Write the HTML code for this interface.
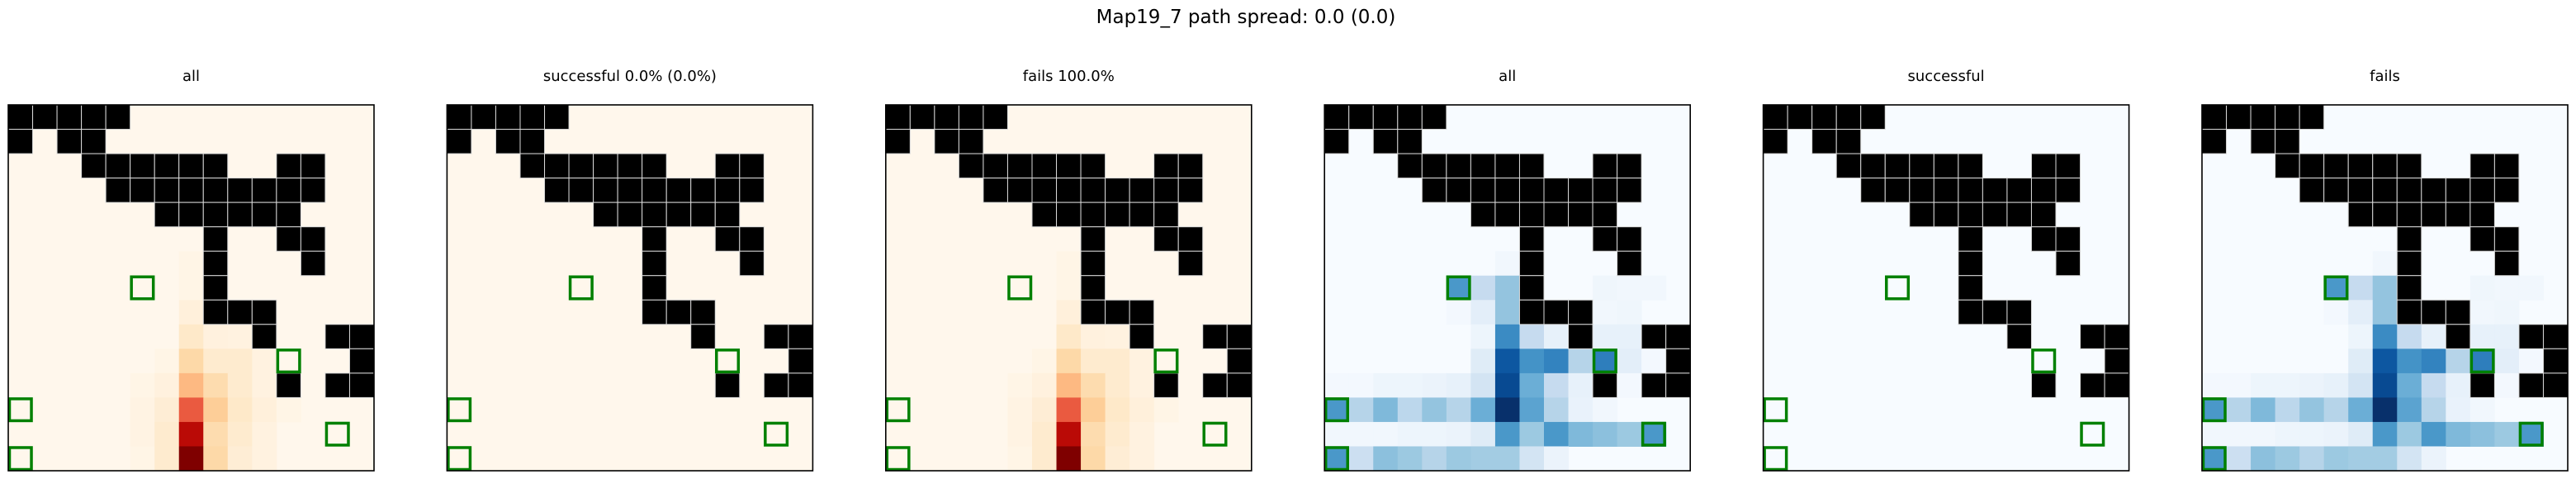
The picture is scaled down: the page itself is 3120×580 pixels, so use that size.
<!DOCTYPE html>
<html><head><meta charset="utf-8"><style>
body{margin:0;background:#fff;}
svg{display:block;font-family:"DejaVu Sans","Liberation Sans",sans-serif;}
</style></head><body>
<svg id="fig" width="3120" height="580" viewBox="0 0 3120 580" xmlns="http://www.w3.org/2000/svg">
<text x="1509" y="28" font-size="23" text-anchor="middle" fill="#000">Map19_7 path spread: 0.0 (0.0)</text>
</svg>
<script>
const panelTitles = ["all","successful 0.0% (0.0%)","fails 100.0%","all","successful","fails"];
const panelCmaps = ["OrRd","OrRd","OrRd","Blues","Blues","Blues"];
const panelUse = ["a","z","a","b","z","b"];
const walls = [[0,0],[0,1],[0,2],[0,3],[0,4],[1,0],[1,2],[1,3],
[2,3],[2,4],[2,5],[2,6],[2,7],[2,8],[2,11],[2,12],
[3,4],[3,5],[3,6],[3,7],[3,8],[3,9],[3,10],[3,11],[3,12],
[4,6],[4,7],[4,8],[4,9],[4,10],[4,11],
[5,8],[5,11],[5,12],[6,8],[6,12],[7,8],[8,8],[8,9],[8,10],
[9,10],[9,13],[9,14],[10,14],[11,11],[11,13],[11,14]];
const goals = [[7,5],[10,11],[12,0],[13,13],[14,0]];
const heatA = [[6,7,0.02],[7,7,0.02],[8,7,0.06],
[9,7,0.12],[9,8,0.05],[9,9,0.04],
[10,6,0.02],[10,7,0.22],[10,8,0.1],[10,9,0.1],[10,10,0.04],
[11,5,0.02],[11,6,0.05],[11,7,0.38],[11,8,0.2],[11,9,0.1],[11,10,0.04],
[12,5,0.03],[12,6,0.08],[12,7,0.65],[12,8,0.28],[12,9,0.12],[12,10,0.06],[12,11,0.02],
[13,5,0.03],[13,6,0.1],[13,7,0.85],[13,8,0.2],[13,9,0.1],[13,10,0.04],
[14,5,0.02],[14,6,0.1],[14,7,1.0],[14,8,0.22],[14,9,0.08],[14,10,0.04]];
const heatB = [[6,7,0.03],
[7,5,0.6],[7,6,0.25],[7,7,0.4],[7,11,0.04],[7,12,0.03],[7,13,0.03],
[8,5,0.02],[8,6,0.1],[8,7,0.4],[8,11,0.03],[8,12,0.04],
[9,6,0.05],[9,7,0.65],[9,8,0.25],[9,9,0.08],[9,11,0.08],[9,12,0.08],
[10,6,0.12],[10,7,0.85],[10,8,0.62],[10,9,0.68],[10,10,0.3],[10,11,0.7],[10,12,0.1],[10,13,0.02],
[11,0,0.02],[11,1,0.02],[11,2,0.05],[11,3,0.05],[11,4,0.06],[11,5,0.08],[11,6,0.18],[11,7,0.9],[11,8,0.5],[11,9,0.25],[11,10,0.08],[11,12,0.02],
[12,0,0.6],[12,1,0.3],[12,2,0.45],[12,3,0.28],[12,4,0.4],[12,5,0.3],[12,6,0.5],[12,7,1.0],[12,8,0.55],[12,9,0.3],[12,10,0.07],[12,11,0.03],
[13,0,0.03],[13,1,0.03],[13,2,0.03],[13,3,0.05],[13,4,0.05],[13,5,0.06],[13,6,0.12],[13,7,0.6],[13,8,0.38],[13,9,0.6],[13,10,0.45],[13,11,0.42],[13,12,0.38],[13,13,0.6],
[14,0,0.6],[14,1,0.22],[14,2,0.42],[14,3,0.38],[14,4,0.3],[14,5,0.38],[14,6,0.36],[14,7,0.36],[14,8,0.18],[14,9,0.06]];
const N = 15;
const CM = {
 OrRd:["#fff7ec","#fee8c8","#fdd49e","#fdbb84","#fc8d59","#ef6548","#d7301f","#b30000","#7f0000"],
 Blues:["#f7fbff","#deebf7","#c6dbef","#9ecae1","#6baed6","#4292c6","#2171b5","#08519c","#08306b"]
};
function hex(h){return [1,3,5].map(i=>parseInt(h.substr(i,2),16));}
function cmap(name,v){
 const s=CM[name];v=Math.max(0,Math.min(1,v));
 const t=v*(s.length-1);const i=Math.min(s.length-2,Math.floor(t));const f=t-i;
 const a=hex(s[i]),b=hex(s[i+1]);
 return "rgb("+a.map((x,k)=>Math.round(x+(b[k]-x)*f)).join(",")+")";
}
const svg=document.getElementById('fig');
const NS="http://www.w3.org/2000/svg";
const AX_LEFT0=10, AX_STEP=531.4, AX_TOP=127, AX_SIZE=443;
function mk(tag,attrs,parent){const e=document.createElementNS(NS,tag);for(const k in attrs)e.setAttribute(k,attrs[k]);parent.appendChild(e);return e;}
panelTitles.forEach((title,p)=>{
 const x0=AX_LEFT0+p*AX_STEP, cs=AX_SIZE/N;
 const sx=c=>x0+c*cs, sy=r=>AX_TOP+r*cs;
 const g=mk('g',{},svg);
 
 
 const t=mk('text',{x:x0+AX_SIZE/2,y:98,'font-size':18,'text-anchor':'middle',fill:'#000'},g);
 t.textContent=title;
 
 
 const bg=mk('rect',{x:x0,y:AX_TOP,width:AX_SIZE,height:AX_SIZE,fill:cmap(panelCmaps[p],0)},g);
 
 
 const data=panelUse[p]==='a'?heatA:(panelUse[p]==='b'?heatB:[]);
 data.forEach(d=>{
  const r=mk('rect',{x:sx(d[1]),y:sy(d[0]),width:cs+0.5,height:cs+0.5,fill:cmap(panelCmaps[p],d[2])},g);
  
  
 });
 walls.forEach(w=>{
  const r=mk('rect',{x:sx(w[1]),y:sy(w[0]),width:cs,height:cs,fill:'#000',stroke:'#d8d8d8','stroke-width':1},g);
  
  
 });
 goals.forEach(q=>{
  const r=mk('rect',{x:sx(q[1])+1.5,y:sy(q[0])+1.5,width:cs-3,height:cs-3,fill:'none',stroke:'#008000','stroke-width':3.5},g);
  
  
 });
 const fr=mk('rect',{x:x0,y:AX_TOP,width:AX_SIZE,height:AX_SIZE,fill:'none',stroke:'#000','stroke-width':1.6},g);
 
 
});
</script>
</body></html>
